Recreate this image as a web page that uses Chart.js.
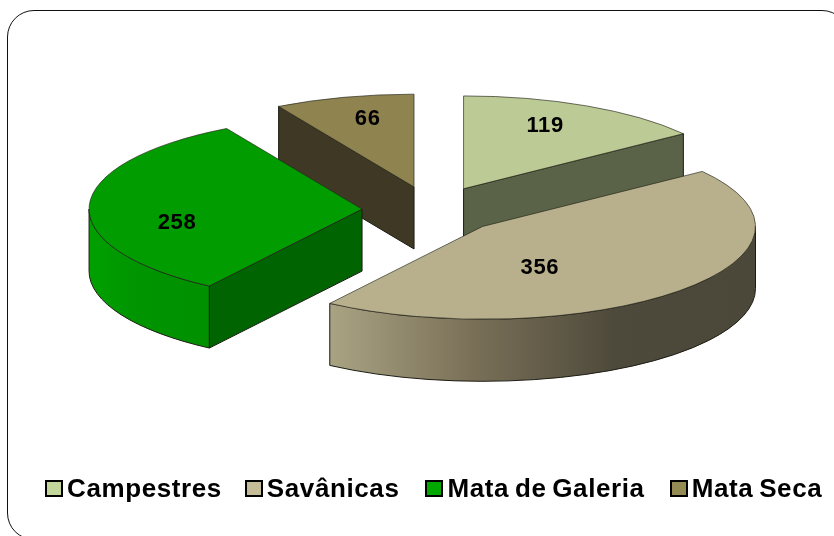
<!DOCTYPE html>
<html>
<head>
<meta charset="utf-8">
<script src="https://cdn.jsdelivr.net/npm/chart.js@4"></script>
<style>
html, body { margin: 0; padding: 0; background: #fff; overflow: hidden; }
#page { position: relative; width: 834px; height: 536px; overflow: hidden; }
#frame { position: absolute; left: 7px; top: 10px; width: 840px; height: 528px; border: 1px solid #111; border-radius: 27px; }
#grafica { position: absolute; left: 0; top: 0; }
#leyenda { position: absolute; left: 45px; top: 472px; height: 32px; display: flex; align-items: center;
  font: bold 26px "Liberation Sans", Arial, sans-serif; letter-spacing: 0.6px; word-spacing: -2px; color: #000; white-space: nowrap; }
#leyenda i { display: inline-block; box-sizing: border-box; width: 18px; height: 17px; border: 2px solid #000; margin-right: 4px; }
#leyenda span { display: flex; align-items: center; }
</style>
</head>
<body>
<div id="page">
  <div id="frame"></div>
  <canvas id="grafica" width="834" height="536"></canvas>
  <div id="leyenda"></div>
</div>
<script>
// Datos de la gráfica
const categorias = ['Campestres', 'Savânicas', 'Mata de Galeria', 'Mata Seca']
const valores = [119, 356, 258, 66]

// Colores
const coloresTapa = ['#bccb95', '#b8b08c', '#009c00', '#8f8350']
const coloresLeyenda = ['#c4d79b', '#c4bd97', '#00a800', '#948a54']
const coloresCorte = ['#5a6348', '#5a5340', '#006400', '#3e3824']
const degradados = [null, ['#a9a383', '#7a7058', '#4e4a3b', '#4c4839'], ['#00a000', '#009600', '#009200', '#009000'], null]
const margenLeyenda = [23, 26, 25, 0]

// Vista 3D: aplastado vertical, altura del pastel y separación de cada porción
const aplastado = 0.34
const centroY = 210
const altura = 62
const separacion = 70
const radio = 273
const ordenParedes = [3, 0, 2, 1]

// Posición de las etiquetas (grados desde arriba, fracción del radio)
const anguloEtiqueta = [23.8, 155, 257.2, 347]
const radioEtiqueta = [0.74, 0.497, 0.695, 0.755]

// Ángulos reales de cada porción, antes de la compensación del plugin
let angulos = []

function puntoPantalla(arc, i, angulo, r){
    const medio = (angulos[i].ini + angulos[i].fin) / 2
    return {
        x: arc.x + Math.cos(medio) * separacion + Math.cos(angulo) * r,
        y: centroY + (Math.sin(medio) * separacion + Math.sin(angulo) * r) * aplastado
    }
}

function caraCorte(ctx, arc, i, angulo){
    const a = puntoPantalla(arc, i, 0, 0)
    const b = puntoPantalla(arc, i, angulo, radio)
    ctx.beginPath()
    ctx.moveTo(a.x, a.y)
    ctx.lineTo(b.x, b.y)
    ctx.lineTo(b.x, b.y + altura)
    ctx.lineTo(a.x, a.y + altura)
    ctx.closePath()
    ctx.fillStyle = coloresCorte[i]
    ctx.fill()
    ctx.strokeStyle = '#1c1c14'
    ctx.lineWidth = 1
    ctx.stroke()
}

function paredExterior(ctx, arc, i){
    const ini = Math.max(angulos[i].ini, 0)
    const fin = Math.min(angulos[i].fin, Math.PI)
    if (fin <= ini) return
    const c = puntoPantalla(arc, i, 0, 0)
    const p0 = puntoPantalla(arc, i, ini, radio)
    const p1 = puntoPantalla(arc, i, fin, radio)
    const grad = ctx.createLinearGradient(Math.min(p0.x, p1.x), 0, Math.max(p0.x, p1.x), 0)
    degradados[i].forEach((col, n) => grad.addColorStop(n / (degradados[i].length - 1), col))
    ctx.beginPath()
    ctx.ellipse(c.x, c.y, radio, radio * aplastado, 0, ini, fin)
    ctx.ellipse(c.x, c.y + altura, radio, radio * aplastado, 0, fin, ini, true)
    ctx.closePath()
    ctx.fillStyle = grad
    ctx.fill()
    ctx.strokeStyle = '#1c1c14'
    ctx.lineWidth = 1
    ctx.stroke()
}

// Plugin que dibuja las paredes y aplasta las porciones para dar el efecto 3D
const pastel3d = {
    id: 'pastel3d',
    afterDatasetsUpdate(chart){
        // Chart.js agranda el radio y estrecha el ángulo al separar una porción, aquí se compensa
        angulos = []
        chart.getDatasetMeta(0).data.forEach(arc => {
            angulos.push({ ini: arc.startAngle, fin: arc.endAngle })
            const fix = 1 - Math.sin(Math.min(Math.PI, arc.circumference))
            const extra = separacion * fix
            const delta = extra / (2 * Math.PI * radio)
            arc.outerRadius = radio - extra
            arc.startAngle -= delta
            arc.endAngle += delta
        })
    },
    beforeDatasetsDraw(chart){
        const ctx = chart.ctx
        const arcs = chart.getDatasetMeta(0).data
        ordenParedes.forEach(i => {
            const arc = arcs[i]
            if (Math.sin(angulos[i].ini + Math.PI / 2) < -0.001) caraCorte(ctx, arc, i, angulos[i].ini)
            if (degradados[i]) paredExterior(ctx, arc, i)
            if (Math.sin(angulos[i].fin + Math.PI / 2) > 0.001) caraCorte(ctx, arc, i, angulos[i].fin)
        })
        ctx.save()
        ctx.translate(0, centroY)
        ctx.scale(1, aplastado)
        ctx.translate(0, -arcs[0].y)
    },
    afterDatasetsDraw(chart){
        const ctx = chart.ctx
        ctx.restore()
        const arcs = chart.getDatasetMeta(0).data
        ctx.save()
        ctx.font = 'bold 22px "Liberation Sans", Arial, sans-serif'
        ctx.letterSpacing = '0.6px'
        ctx.fillStyle = '#000'
        ctx.textAlign = 'center'
        ctx.textBaseline = 'middle'
        arcs.forEach((arc, i) => {
            const ang = (anguloEtiqueta[i] - 90) * Math.PI / 180
            const p = puntoPantalla(arc, i, ang, radio * radioEtiqueta[i])
            ctx.fillText(String(valores[i]), p.x, p.y)
        })
        ctx.restore()
    }
}

new Chart(document.getElementById('grafica'), {
    type: 'pie',
    data: {
        labels: categorias,
        datasets: [{
            data: valores,
            backgroundColor: coloresTapa,
            borderColor: '#26261c',
            borderWidth: 1,
            offset: separacion * 4,
            clip: false
        }]
    },
    options: {
        responsive: false,
        animation: false,
        radius: radio,
        layout: { padding: { left: 30, bottom: 90 } },
        plugins: {
            legend: { display: false },
            tooltip: { enabled: false }
        }
    },
    plugins: [pastel3d]
})

// Leyenda
const leyenda = document.getElementById('leyenda')
categorias.forEach((nombre, i) => {
    const item = document.createElement('span')
    item.style.marginRight = margenLeyenda[i] + 'px'
    const caja = document.createElement('i')
    caja.style.background = coloresLeyenda[i]
    item.appendChild(caja)
    item.appendChild(document.createTextNode(nombre))
    leyenda.appendChild(item)
})
</script>
</body>
</html>
